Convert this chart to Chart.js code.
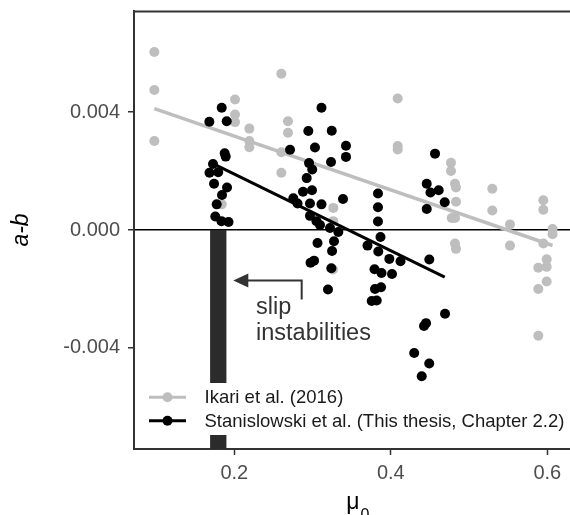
<!DOCTYPE html>
<html>
<head>
<meta charset="utf-8">
<script src="https://cdn.jsdelivr.net/npm/chart.js@4.4.0/dist/chart.umd.min.js"></script>
<style>
  html, body { margin: 0; padding: 0; background: #fff; }
  #wrap { width: 570px; height: 515px; }
</style>
</head>
<body>
<div id="wrap"><canvas id="myChart" width="570" height="515"></canvas></div>
<script>
// Ikari et al. (2016)
var ikariMu = [0.0978, 0.0978, 0.0978, 0.2009, 0.2009, 0.2009, 0.2192, 0.2192, 0.2192,
  0.2601, 0.2686, 0.2686, 0.2601, 0.2601, 0.1839, 0.3265, 0.3265, 0.3261, 0.4088, 0.4088,
  0.4088, 0.4769, 0.4769, 0.482, 0.4833, 0.4833, 0.4778, 0.482, 0.482, 0.4833, 0.5297,
  0.5297, 0.5523, 0.5523, 0.5949, 0.5949, 0.6067, 0.6067, 0.5949, 0.5992, 0.5885, 0.5992,
  0.5992, 0.5885, 0.5885];
var ikariAB = [0.00604, 0.00475, 0.00302, 0.00443, 0.00392, 0.00366, 0.00344, 0.00302, 0.00281,
  0.0053, 0.00369, 0.0033, 0.00264, 0.00194, 0.00087, 0.00075, 0.0003, -0.00134, 0.00446, 0.00285,
  0.00273, 0.00228, 0.002, 0.00157, 0.00144, 0.00096, 0.00041, 0.00041, -0.00046, -0.00064, 0.0014,
  0.00066, 0.00019, -0.00053, 0.00101, 0.00069, 0.00003, -0.00014, -0.00046, -0.00099, -0.00128, -0.00125,
  -0.00175, -0.002, -0.00359];

// Stanislowski et al. (This thesis, Chapter 2.2)
var stanMu = [0.1839, 0.1681, 0.1903, 0.1877, 0.189, 0.1728, 0.1683, 0.1794, 0.1741, 0.1907,
  0.1843, 0.1775, 0.1757, 0.1836, 0.1926, 0.2712, 0.2946, 0.3114, 0.3245, 0.3031,
  0.3427, 0.3427, 0.3236, 0.2955, 0.2996, 0.2925, 0.2878, 0.2993, 0.2754, 0.2808,
  0.2967, 0.3114, 0.3389, 0.3836, 0.3836, 0.3836, 0.3868, 0.2967, 0.305, 0.3095,
  0.3223, 0.3329, 0.3063, 0.3274, 0.3249, 0.2974, 0.3019, 0.324, 0.3197, 0.3702,
  0.384, 0.3981, 0.4124, 0.3792, 0.3881, 0.4015, 0.3798, 0.3875, 0.3756, 0.382,
  0.4492, 0.4565, 0.4459, 0.4507, 0.4612, 0.4459, 0.4689, 0.4693, 0.445, 0.4424,
  0.4299, 0.4491, 0.4395, 0.4591];
var stanAB = [0.00415, 0.00367, 0.00369, 0.0026, 0.00249, 0.00224, 0.00194, 0.00196, 0.00157, 0.00144,
  0.00119, 0.00087, 0.00046, 0.0003, 0.00027, 0.00272, 0.00336, 0.00415, 0.00337, 0.0028,
  0.00286, 0.00248, 0.00231, 0.00227, 0.00205, 0.00176, 0.0013, 0.00135, 0.00108, 0.0009,
  0.0009, 0.00087, 0.00105, 0.00124, 0.00077, 0.00029, -0.00024, 0.00048, 0.0003, 0.00017,
  0.00007, -0.00007, -0.00044, -0.00038, -0.00071, -0.00111, -0.00104, -0.0013, -0.00202, -0.00053,
  -0.00073, -0.00098, -0.00106, -0.00133, -0.00146, -0.00149, -0.002, -0.00194, -0.00241, -0.00239,
  -0.001, 0.00259, 0.00157, 0.00127, 0.00135, 0.00071, 0.00094, -0.00284, -0.00316, -0.00326,
  -0.00417, -0.00453, -0.00496, -0.00553];

// lineas de ajuste
var ikariFitMu = [0.0978, 0.6067];
var ikariFitAB = [0.004115, -0.000526];
var stanFitMu = [0.1681, 0.4689];
var stanFitAB = [0.00231, -0.0016];

// banda de inestabilidades
var slipBandMu = [0.169, 0.1902];

var xTicks = [0.2, 0.4, 0.6];
var yTicks = [-0.004, 0, 0.004];
var xRange = [0.0718, 0.629];
var yRange = [-0.00743, 0.00743];
var seriesLabels = ["Ikari et al. (2016)", "Stanislowski et al. (This thesis, Chapter 2.2)"];
var seriesColors = ["#bebebe", "#000000"];

// anotacion (coordenadas en unidades de datos)
var arrowPath = [[0.2861, -0.00236], [0.2861, -0.001715], [0.1987, -0.001715]];
var noteLines = ["slip", "instabilities"];
var noteX = 0.2277;
var noteY = [-0.002846, -0.003742];

var FONT = "'Liberation Sans', Arial, Helvetica, sans-serif";
Chart.defaults.font.family = FONT;

function puntos(xs, ys) {
  return xs.map(function (x, i) { return { x: x, y: ys[i] }; });
}

var decoraciones = {
  id: "decoraciones",
  afterDatasetsDraw: function (chart) {
    var ctx = chart.ctx;
    var area = chart.chartArea;
    var sx = chart.scales.x;
    var sy = chart.scales.y;

    // borde superior del panel
    ctx.save();
    ctx.strokeStyle = "#333";
    ctx.lineWidth = 2;
    ctx.beginPath();
    ctx.moveTo(area.left - 1, area.top + 0.5);
    ctx.lineTo(area.right, area.top + 0.5);
    ctx.stroke();

    // flecha
    ctx.strokeStyle = "#333";
    ctx.fillStyle = "#333";
    ctx.lineWidth = 2;
    var p = arrowPath.map(function (a) { return [sx.getPixelForValue(a[0]), sy.getPixelForValue(a[1])]; });
    ctx.beginPath();
    ctx.moveTo(p[0][0], p[0][1]);
    ctx.lineTo(p[1][0], p[1][1]);
    ctx.lineTo(p[2][0] + 14, p[2][1]);
    ctx.stroke();
    ctx.beginPath();
    ctx.moveTo(p[2][0], p[2][1]);
    ctx.lineTo(p[2][0] + 15, p[2][1] - 7);
    ctx.lineTo(p[2][0] + 15, p[2][1] + 7);
    ctx.closePath();
    ctx.fill();

    // texto de la anotacion
    ctx.font = "23.5px " + FONT;
    ctx.fillStyle = "#333";
    ctx.textAlign = "left";
    ctx.textBaseline = "alphabetic";
    noteLines.forEach(function (t, i) {
      ctx.fillText(t, sx.getPixelForValue(noteX), sy.getPixelForValue(noteY[i]));
    });

    // leyenda dentro del panel
    var lx = area.left + 3;
    var ly = area.bottom - 66;
    ctx.fillStyle = "#fff";
    ctx.fillRect(lx, ly, area.right - lx, 52);
    seriesLabels.forEach(function (label, i) {
      var cy = ly + 14.3 + i * 23.4;
      ctx.strokeStyle = seriesColors[i];
      ctx.fillStyle = seriesColors[i];
      ctx.lineWidth = 3;
      ctx.beginPath();
      ctx.moveTo(area.left + 15, cy);
      ctx.lineTo(area.left + 52, cy);
      ctx.stroke();
      ctx.beginPath();
      ctx.arc(area.left + 33.5, cy, 5, 0, Math.PI * 2);
      ctx.fill();
      ctx.fillStyle = "#1a1a1a";
      ctx.font = "18.5px " + FONT;
      ctx.textBaseline = "middle";
      ctx.fillText(label, area.left + 70.5, cy + 1);
    });

    // titulos de los ejes
    ctx.fillStyle = "#000";
    ctx.font = "italic 23px " + FONT;
    ctx.textAlign = "center";
    ctx.textBaseline = "middle";
    ctx.translate(22, (area.top + area.bottom) / 2);
    ctx.rotate(-Math.PI / 2);
    ctx.fillText("a-b", 0, 0);
    ctx.restore();

    ctx.save();
    ctx.fillStyle = "#000";
    ctx.textBaseline = "alphabetic";
    ctx.textAlign = "center";
    ctx.font = "23px " + FONT;
    ctx.fillText("\u03bc", 353, 508.7);
    ctx.textAlign = "left";
    ctx.font = "16px " + FONT;
    ctx.fillText("0", 360.5, 520);
    ctx.restore();
  }
};

var canvas = document.getElementById("myChart");
var ctx = canvas.getContext("2d");

window.myChart = new Chart(ctx, {
  type: "scatter",
  data: {
    datasets: [
      {
        type: "line",
        label: "slip instabilities",
        data: [{ x: slipBandMu[0], y: yRange[0] }, { x: slipBandMu[1], y: yRange[0] }],
        fill: "origin",
        backgroundColor: "#2b2b2b",
        borderWidth: 0,
        pointRadius: 0,
        order: 6,
      },
      {
        label: seriesLabels[0],
        data: puntos(ikariMu, ikariAB),
        pointRadius: 5,
        pointBackgroundColor: seriesColors[0],
        pointBorderWidth: 0,
        order: 5,
      },
      {
        type: "line",
        label: seriesLabels[0] + " fit",
        data: puntos(ikariFitMu, ikariFitAB),
        borderColor: seriesColors[0],
        borderWidth: 3.5,
        pointRadius: 0,
        fill: false,
        order: 4,
      },
      {
        label: seriesLabels[1],
        data: puntos(stanMu, stanAB),
        pointRadius: 5,
        pointBackgroundColor: seriesColors[1],
        pointBorderWidth: 0,
        order: 3,
      },
      {
        type: "line",
        label: seriesLabels[1] + " fit",
        data: puntos(stanFitMu, stanFitAB),
        borderColor: seriesColors[1],
        borderWidth: 3,
        pointRadius: 0,
        fill: false,
        order: 2,
      },
    ],
  },
  options: {
    responsive: false,
    animation: false,
    layout: { autoPadding: false, padding: { top: 11, right: 0, bottom: 0, left: 0 } },
    plugins: {
      legend: { display: false },
      tooltip: { enabled: false },
    },
    scales: {
      x: {
        type: "linear",
        min: xRange[0],
        max: xRange[1],
        afterBuildTicks: function (axis) {
          axis.ticks = xTicks.map(function (v) { return { value: v }; });
        },
        afterFit: function (axis) {
          axis.height = 66;
          axis.paddingLeft = 0;
          axis.paddingRight = 0;
        },
        border: { display: true, color: "#333", width: 2 },
        grid: { drawOnChartArea: false, tickColor: "#333", tickLength: 6, tickWidth: 1.5 },
        ticks: {
          color: "#4d4d4d",
          font: { size: 20 },
          padding: 6,
          maxRotation: 0,
          callback: function (v) { return v.toFixed(1); },
        },
      },
      y: {
        type: "linear",
        min: yRange[0],
        max: yRange[1],
        afterBuildTicks: function (axis) {
          axis.ticks = yTicks.map(function (v) { return { value: v }; });
        },
        afterFit: function (axis) {
          axis.width = 134;
          axis.paddingTop = 0;
          axis.paddingBottom = 0;
        },
        border: { display: true, color: "#333", width: 2 },
        grid: {
          color: function (c) { return c.tick && c.tick.value === 0 ? "#000" : "rgba(0,0,0,0)"; },
          lineWidth: 1.5,
          tickColor: "#333",
          tickLength: 6,
          tickWidth: 1.5,
        },
        ticks: {
          color: "#4d4d4d",
          font: { size: 20 },
          padding: 8,
          callback: function (v) { return v === 0 ? "0.000" : v.toFixed(3); },
        },
      },
    },
  },
  plugins: [decoraciones],
});
</script>
</body>
</html>
